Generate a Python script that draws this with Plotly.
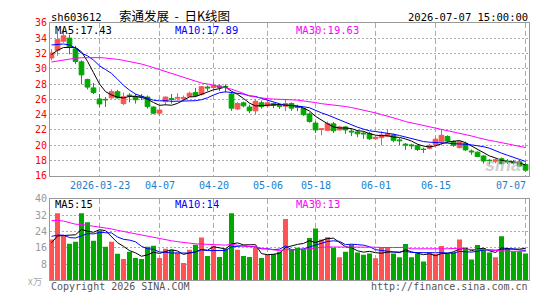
import plotly.graph_objects as go
import pandas as pd

# ---------------- data ----------------
dates = [
    "2026-03-11", "2026-03-12", "2026-03-13", "2026-03-16", "2026-03-17", "2026-03-18", "2026-03-19", "2026-03-20",
    "2026-03-23", "2026-03-24", "2026-03-25", "2026-03-26", "2026-03-27", "2026-03-30", "2026-03-31", "2026-04-01",
    "2026-04-02", "2026-04-03", "2026-04-07", "2026-04-08", "2026-04-09", "2026-04-10", "2026-04-13", "2026-04-14",
    "2026-04-15", "2026-04-16", "2026-04-17", "2026-04-20", "2026-04-21", "2026-04-22", "2026-04-23", "2026-04-24",
    "2026-04-27", "2026-04-28", "2026-04-29", "2026-04-30", "2026-05-06", "2026-05-07", "2026-05-08", "2026-05-11",
    "2026-05-12", "2026-05-13", "2026-05-14", "2026-05-15", "2026-05-18", "2026-05-19", "2026-05-20", "2026-05-21",
    "2026-05-22", "2026-05-25", "2026-05-26", "2026-05-27", "2026-05-28", "2026-05-29", "2026-06-01", "2026-06-02",
    "2026-06-03", "2026-06-04", "2026-06-05", "2026-06-08", "2026-06-09", "2026-06-10", "2026-06-11", "2026-06-12",
    "2026-06-15", "2026-06-16", "2026-06-17", "2026-06-18", "2026-06-22", "2026-06-23", "2026-06-24", "2026-06-25",
    "2026-06-26", "2026-06-29", "2026-06-30", "2026-07-01", "2026-07-02", "2026-07-03", "2026-07-06", "2026-07-07",
]

open_ = [31.4, 32.4, 33.6, 34.0, 32.6, 30.9, 28.6, 27.5, 26.05, 26.0,
         26.2, 27.0, 25.45, 26.55, 26.4, 26.4, 26.3, 25.0, 24.2, 25.7,
         26.1, 26.15, 26.1, 26.4, 26.9, 26.65, 27.6, 27.55, 27.75, 27.7,
         26.7, 24.75, 25.55, 25.0, 24.5, 25.55, 25.15, 25.45, 25.2, 25.1,
         25.45, 25.05, 24.8, 24.1, 22.9, 22.05, 21.95, 22.8, 22.0, 22.4,
         21.85, 21.75, 21.6, 21.55, 20.85, 21.0, 21.2, 21.35, 20.7, 20.15,
         20.05, 19.95, 19.5, 19.6, 20.1, 20.45, 21.15, 20.5, 19.7, 20.25,
         19.25, 19.1, 18.6, 18.05, 17.9, 18.25, 17.95, 17.85, 17.85, 17.5]
high = [32.55, 34.9, 35.2, 34.45, 33.0, 31.1, 28.7, 28.15, 26.7, 26.3,
        27.3, 27.25, 26.9, 26.8, 26.7, 26.7, 26.5, 25.1, 24.85, 26.35,
        26.7, 26.8, 26.5, 27.0, 27.5, 27.75, 27.8, 28.3, 27.95, 27.95,
        26.9, 25.65, 25.7, 25.3, 26.05, 25.85, 25.8, 25.6, 25.45, 26.05,
        25.6, 25.3, 24.9, 24.3, 23.15, 22.2, 23.1, 23.05, 22.55, 22.5,
        22.2, 22.0, 21.8, 21.75, 21.25, 21.8, 22.1, 21.5, 20.95, 20.3,
        20.2, 20.1, 19.7, 20.2, 21.1, 22.1, 21.3, 20.65, 20.6, 20.45,
        19.45, 19.2, 18.75, 18.2, 18.3, 18.4, 18.2, 18.1, 18.1, 17.7]
low = [31.1, 31.7, 33.4, 31.9, 30.6, 27.95, 27.3, 26.7, 25.0, 25.0,
       26.1, 26.1, 25.25, 25.6, 25.45, 25.9, 24.8, 24.05, 23.8, 25.25,
       25.45, 25.9, 25.87, 26.3, 26.3, 26.5, 27.1, 27.3, 27.1, 26.9,
       24.5, 24.6, 24.95, 24.2, 24.05, 24.8, 24.9, 24.85, 24.75, 24.45,
       24.5, 24.45, 23.85, 22.95, 21.6, 21.3, 21.85, 21.6, 21.95, 21.5,
       21.2, 21.05, 20.85, 20.7, 20.75, 20.0, 21.05, 20.4, 20.0, 19.4,
       19.5, 19.25, 19.0, 19.45, 19.95, 20.0, 20.3, 19.8, 19.6, 19.25,
       18.75, 18.45, 17.6, 17.5, 17.65, 17.5, 17.55, 17.5, 17.25, 16.55]
close = [32.05, 33.8, 34.3, 32.8, 30.95, 29.2, 27.6, 26.9, 25.4, 25.95,
         27.0, 26.2, 26.35, 26.45, 25.95, 26.3, 25.05, 24.2, 24.6, 26.3,
         26.0, 26.25, 26.25, 26.8, 26.5, 27.65, 27.5, 27.8, 27.55, 27.6,
         24.85, 25.45, 25.15, 24.5, 25.75, 25.05, 25.55, 25.2, 25.1, 25.45,
         24.85, 24.95, 24.0, 23.1, 22.0, 22.15, 22.85, 21.9, 22.4, 22.0,
         21.75, 21.5, 21.5, 20.85, 21.05, 21.35, 21.5, 20.65, 20.6, 20.05,
         19.95, 19.45, 19.45, 20.0, 20.8, 21.3, 20.55, 20.0, 20.45, 19.4,
         19.15, 18.55, 17.95, 18.0, 18.1, 17.6, 17.8, 17.7, 17.3, 16.75]
# volume, in 万手
volume = [20, 33, 22, 18, 19, 33, 28.5, 19.5, 24.5, 16.5,
          19, 13, 10.5, 14, 11, 10.5, 16.5, 17, 11, 15.5,
          15, 13.5, 8.5, 15, 17.5, 21, 12, 17, 11.5, 15.5,
          33, 15, 12, 11.5, 16, 11, 12.5, 12.9, 14, 30.2,
          15.2, 16, 15.2, 20.8, 25.5, 20, 21.2, 16, 11.3, 14,
          17.6, 13.7, 12.6, 13.2, 10.8, 16.3, 16.3, 13.2, 11.3, 17.9,
          11.3, 13.2, 9.2, 13.7, 12.9, 16.8, 13.2, 13.7, 20, 15.6,
          10.2, 17.3, 15.7, 13.7, 11.3, 21.6, 15.6, 14.1, 14.1, 13.2]

# earlier sessions (not drawn) that feed the moving averages
prior_close = [29.6, 29.3, 29.0, 28.95, 27.5, 26.6, 26.3, 26.6, 27.6, 28.9,
               29.5, 30.2, 30.75, 31.0, 31.4, 31.7, 31.6, 31.9, 33.0, 34.0,
               33.6, 33.2, 34.2, 34.85, 35.95, 31.0, 32.5, 32.9, 30.8]
prior_volume = [28, 32, 40, 44, 36, 41, 32, 37, 30, 34,
                34, 28, 37, 30, 27, 35, 32, 29, 31, 26,
                27, 22, 30, 21, 24, 16, 21, 17, 18]

tick_labels = ["2026-03-23", "04-07", "04-20", "05-06", "05-18", "06-01", "06-15", "07-07"]
price_ticks = [16, 18, 20, 22, 24, 26, 28, 30, 32, 34, 36]
vol_ticks = [8, 16, 24, 32, 40]

code_text = "sh603612"
title_text = "索通发展\u00a0 -\u00a0 日K线图"
time_text = "2026-07-07 15:00:00"
price_ma_labels = ["MA5:17.43", "MA10:17.89", "MA30:19.63"]
vol_ma_labels = ["MA5:15", "MA10:14", "MA30:13"]

# ---------------- derived ----------------
n = len(dates)
xi = list(range(n))
tick_idx = [dates.index(("2026-" + t) if len(t) == 5 else t) for t in tick_labels]

cs = pd.Series(prior_close + close)
vs = pd.Series(prior_volume + volume)
k = len(prior_close)
ma = {p: cs.rolling(p).mean().iloc[k:].tolist() for p in (5, 10, 30)}
vma = {p: vs.rolling(p).mean().iloc[k:].tolist() for p in (5, 10, 30)}

RED = "#FF5252"
GREEN = "#00A800"
MA_COL = {5: "#000000", 10: "#0000FF", 30: "#FF00FF"}
MONO = "DejaVu Sans Mono"
W, H = 545, 300
X0, X1 = 50, 529
PY0, PY1 = 17.5, 177
VY0, VY1 = 201, 285.7

def fx(p):
    return p / W

def fy(p):
    return 1 - p / H

fig = go.Figure()
fig.add_trace(go.Candlestick(
    x=xi, open=open_, high=high, low=low, close=close,
    increasing=dict(line=dict(color=RED, width=1), fillcolor=RED),
    decreasing=dict(line=dict(color=GREEN, width=1), fillcolor=GREEN),
    whiskerwidth=0, hoverinfo="skip", xaxis="x", yaxis="y", showlegend=False))
for p in (5, 10, 30):
    fig.add_trace(go.Scatter(x=xi, y=ma[p], mode="lines", line=dict(color=MA_COL[p], width=1),
                             xaxis="x", yaxis="y", showlegend=False, hoverinfo="skip"))

bar_colors = [RED if c >= o else GREEN for o, c in zip(open_, close)]
fig.add_trace(go.Bar(x=xi, y=volume, marker=dict(color=bar_colors, line=dict(width=0)),
                     width=0.84, xaxis="x2", yaxis="y2", showlegend=False, hoverinfo="skip"))
for p in (5, 10, 30):
    fig.add_trace(go.Scatter(x=xi, y=vma[p], mode="lines", line=dict(color=MA_COL[p], width=1),
                             xaxis="x2", yaxis="y2", showlegend=False, hoverinfo="skip"))

xrange_ = [-0.25, 79.58]
common_x = dict(range=xrange_, tickvals=tick_idx, showticklabels=False, ticks="",
                showgrid=True, gridcolor="#AAAAAA", griddash="5px,3px", gridwidth=1,
                showline=True, mirror=True, linecolor="#999999", linewidth=1, zeroline=False,
                domain=[fx(X0), fx(X1)], fixedrange=True)
fig.update_layout(
    width=W, height=H, autosize=False,
    margin=dict(l=0, r=0, t=0, b=0, pad=0),
    paper_bgcolor="white", plot_bgcolor="white",
    boxgap=0.22, boxgroupgap=0,
    xaxis=dict(common_x, anchor="y", rangeslider=dict(visible=False)),
    xaxis2=dict(common_x, anchor="y2", matches="x"),
    yaxis=dict(domain=[fy(PY1), fy(PY0)], range=[16, 36], tickvals=price_ticks,
               tickfont=dict(family=MONO, size=10, color="#FF0000"),
               showgrid=True, gridcolor="#AAAAAA", griddash="2px,2px", gridwidth=1,
               showline=True, mirror=True, linecolor="#999999", linewidth=1, zeroline=False,
               ticks="", anchor="x", fixedrange=True),
    yaxis2=dict(domain=[fy(VY1), fy(VY0)], range=[0, 40], tickvals=vol_ticks,
                tickfont=dict(family=MONO, size=10, color="#999999"),
                showgrid=True, gridcolor="#AAAAAA", griddash="2px,2px", gridwidth=1,
                showline=True, mirror=True, linecolor="#999999", linewidth=1, zeroline=False,
                ticks="", anchor="x2", fixedrange=True),
)

ann = []
def txt(s, x, y, size=10, color="#000000", anchor="left", family=MONO, **kw):
    ann.append(dict(text=s, x=fx(x), y=fy(y), xref="paper", yref="paper", showarrow=False,
                    xanchor=anchor, yanchor="middle", font=dict(family=family, size=size, color=color), **kw))

txt(code_text, 49, 11.5, size=10.5)
txt(title_text, 117, 9.5, size=12.5, family="Noto Sans CJK SC")
txt(time_text, 530, 11.5, size=10.5, anchor="right")
for s, x, p in zip(price_ma_labels, (53, 173, 294), (5, 10, 30)):
    txt(s, x, 24.5, size=10.5, color=MA_COL[p])
for s, x, p in zip(vol_ma_labels, (53, 173, 294), (5, 10, 30)):
    txt(s, x, 206.5, size=10.5, color=MA_COL[p])
txt("x万", 44, 286, size=9.5, color="#AAAAAA", anchor="right", family="Noto Sans CJK SC")
txt("Copyright 2026 SINA.COM", 49, 292.5, size=10, color="#555555")
txt("http://finance.sina.com.cn", 530, 292.5, size=10, color="#555555", anchor="right")
txt("<b><i>sina</i></b>", 503, 166, size=18, color="rgba(185,185,185,0.7)", anchor="center",
    family="Liberation Sans")

for i, (t, xv) in enumerate(zip(tick_labels, tick_idx)):
    last = i == len(tick_labels) - 1
    ann.append(dict(text=t, x=(xrange_[1] - 0.15) if last else xv, y=fy(186.5), xref="x", yref="paper",
                    showarrow=False, xanchor="right" if last else "center", yanchor="middle",
                    font=dict(family=MONO, size=10, color="#1A7FCC")))

fig.update_layout(annotations=ann)
fig.write_html("out.html")
